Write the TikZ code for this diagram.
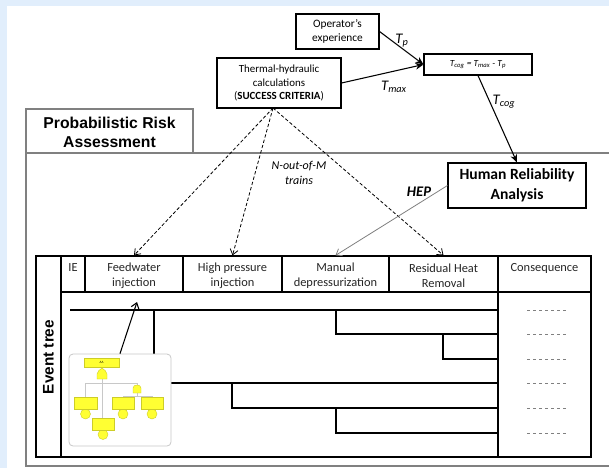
\documentclass[tikz,border=0pt]{standalone}
\usepackage{fontspec}
\setmainfont{Carlito}
\newfontfamily\arialfont{Liberation Sans}
\usetikzlibrary{arrows.meta}
\definecolor{bgblue}{RGB}{225,238,252}
\definecolor{framegray}{RGB}{128,128,128}
\definecolor{ftyellow}{RGB}{255,255,51}
\definecolor{ftedge}{RGB}{205,205,40}
\definecolor{ftline}{RGB}{200,200,200}
\begin{document}
\begin{tikzpicture}[x=0.75pt,y=-0.75pt,
  tbox/.style={draw=black, line width=0.8pt, fill=white, inner sep=0pt, align=center},
  cell/.style={draw=black, line width=0.9pt, inner sep=0pt, minimum height={36*0.75pt}},
  htext/.style={font=\fontsize{9.3}{11.3}\selectfont, align=center, inner sep=0pt, text=black!85},
  branch/.style={line width=1.1pt, black},
  cons/.style={gray, line width=0.7pt, dash pattern=on 2.6pt off 1.9pt},
  solidarrow/.style={-{Stealth[length=6pt,width=5pt]}, line width=0.8pt},
  dasharrow/.style={dash pattern=on 2.5pt off 1.6pt, -{Straight Barb[length=4pt,width=6pt]}, line width=0.6pt},
  lbl/.style={inner sep=0pt, font=\fontsize{11}{13}\selectfont\itshape},
  ftbox/.style={fill=ftyellow, draw=ftedge, line width=0.3pt},
  ftl/.style={ftline, line width=0.7pt}
]
\useasboundingbox (0,0) rectangle (609,468);
\fill[bgblue] (0,0) rectangle (609,468);
\fill[white] (7,6) rectangle (609,468);

% PRA frame
\draw[framegray, line width=1.1pt] (26,109) rectangle (193,153);
\draw[framegray, line width=1.1pt] (193,153) -- (609,153);
\draw[framegray, line width=1.1pt] (26,153) -- (26,466) -- (609,466);
\node[inner sep=0pt, align=center, font=\arialfont\bfseries\fontsize{11.8}{14.3}\selectfont] (pra) at (109.5,132) {Probabilistic Risk\\Assessment};

% top boxes
\node[tbox, minimum width={83*0.75pt}, minimum height={35*0.75pt}, font=\fontsize{8.5}{11}\selectfont] (op) at (337.5,31.5) {Operator's\\experience};
\node[tbox, minimum width={124*0.75pt}, minimum height={50*0.75pt}, font=\fontsize{8.2}{9.8}\selectfont] (th) at (279,83) {Thermal-hydraulic\\calculations\\(\textbf{SUCCESS CRITERIA})};
\node[tbox, minimum width={108*0.75pt}, minimum height={21*0.75pt}, font=\fontsize{7}{8}\selectfont\itshape] (tcog) at (478,64.5) {T\textsubscript{cog} = T\textsubscript{max} - T\textsubscript{p}};
\node[tbox, minimum width={138*0.75pt}, minimum height={45*0.75pt}, font=\bfseries\fontsize{11.7}{15}\selectfont] (hra) at (517,185.5) {Human Reliability\\Analysis};

\draw[solidarrow] (op.east) -- (tcog.west);
\draw[solidarrow] (th.east) -- (tcog.west);
\draw[solidarrow] (tcog.south) -- (hra.north);
\node[lbl] (tp) at (402,41) {T\textsubscript{p}};
\node[lbl] (tmax) at (394,87) {T\textsubscript{max}};
\node[lbl] (tcg) at (504,102) {T\textsubscript{cog}};

% event tree table
\draw[black, line width=0.9pt] (36,256) rectangle (591,457);
\draw[black, line width=0.9pt] (61,256) -- (61,457);
\node[cell, minimum width={24*0.75pt}] (ie) at (73,274) {};
\node[cell, minimum width={98*0.75pt}] (fw) at (134,274) {};
\node[cell, minimum width={99*0.75pt}] (hp) at (232.5,274) {};
\node[cell, minimum width={107*0.75pt}] (md) at (335.5,274) {};
\node[cell, minimum width={109*0.75pt}] (rhr) at (443.5,274) {};
\node[cell, minimum width={93*0.75pt}] (cq) at (544.5,274) {};
\draw[black, line width=0.9pt] (498,292) -- (498,457);
\node[htext] (tie) at (73,268) {IE};
\node[htext] (tfw) at (134,275.5) {Feedwater\\injection};
\node[htext] (thp) at (232.5,275.5) {High pressure\\injection};
\node[htext] (tmd) at (335.5,275.5) {Manual\\depressurization};
\node[htext] (trhr) at (443.5,275.5) {Residual Heat\\Removal};
\node[htext] (tcq) at (544.5,268) {Consequence};
\node[rotate=90, inner sep=0pt, font=\arialfont\bfseries\fontsize{11.5}{13}\selectfont] (et) at (48.5,357) {Event tree};

% branches
\draw[branch] (70,310) -- (498,310);
\draw[branch] (154,310) -- (154,383) -- (498,383);
\draw[branch] (336,310) -- (336,334) -- (498,334);
\draw[branch] (443,334) -- (443,359) -- (498,359);
\draw[branch] (232,383) -- (232,408) -- (498,408);
\draw[branch] (336,408) -- (336,433) -- (498,433);
\foreach \yy in {310,334,359,383,408,433} \draw[cons] (527,\yy) -- (567,\yy);

% fault tree miniature
\node[draw=ftline, fill=white, rounded corners=3pt, line width=0.6pt, minimum width={102*0.75pt}, minimum height={92*0.75pt}, inner sep=0pt] (ft) at (120,400) {};
\draw[ftl] (85,397) -- (85,383) -- (137,383) -- (137,387);
\draw[ftl] (102,379) -- (102,418);
\draw[ftl] (123,397) -- (123,396) -- (152,396) -- (152,397);
\draw[ftl] (137,392) -- (137,396);
\filldraw[ftbox] (84,358) rectangle (119,367);
\node[inner sep=0pt, font=\fontsize{2.5}{3}\selectfont] (aa) at (101.5,362.5) {AA};
\filldraw[ftbox] (97,379) -- (97,374) .. controls (97,371) and (100,370) .. (102,368) .. controls (104,370) and (107,371) .. (107,374) -- (107,379) -- cycle;
\filldraw[ftbox] (133,393) -- (133,388) .. controls (133,386) and (135,385) .. (137,385) .. controls (139,385) and (141,386) .. (141,388) -- (141,393) -- cycle;
\foreach \cx/\cy in {85.5/414,103/434.5,123/414,152/414} \filldraw[ftbox] (\cx,\cy) circle[radius=5];
\filldraw[ftbox] (74,397) rectangle (97,409);
\filldraw[ftbox] (92,418) rectangle (114,430);
\filldraw[ftbox] (112,397) rectangle (134,409);
\filldraw[ftbox] (141,397) rectangle (163,409);

\coordinate (fwtip) at (137,302);
\draw[line width=0.8pt, -{Straight Barb[length=4pt,width=6pt]}] (ft.north) -- (fwtip);

% dashed success-criteria arrows
\coordinate (ths) at (273,108);
\draw[dasharrow] (ths) -- (fw.north);
\draw[dasharrow] (ths) -- (hp.north);
\draw[dasharrow] (ths) -- (rhr.north);
\node[inner sep=0pt, align=center, font=\fontsize{9}{11}\selectfont\itshape] (nm) at (299,173) {N-out-of-M\\trains};

% HEP
\draw[gray, line width=0.6pt, -{Straight Barb[length=4pt,width=6pt]}] (hra.west) -- (md.north);
\node[inner sep=0pt, font=\fontsize{11}{13}\selectfont\bfseries\itshape] (hep) at (419,192) {HEP};
\end{tikzpicture}
\end{document}
